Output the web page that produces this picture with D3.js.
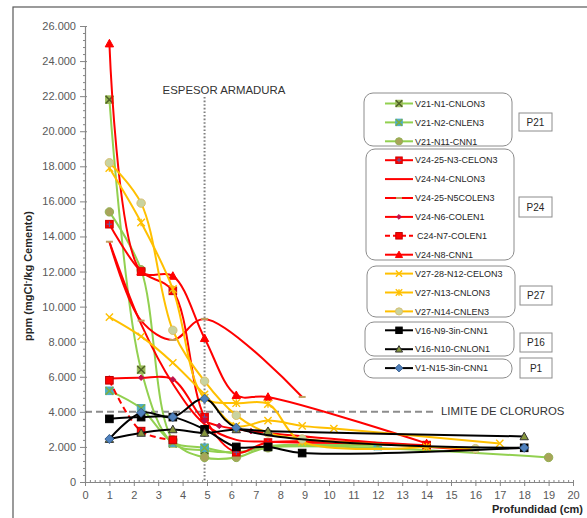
<!DOCTYPE html>
<html><head><meta charset="utf-8">
<script src="https://cdn.jsdelivr.net/npm/d3@7"></script>
<style>
body{margin:0;background:#fff;}
svg{display:block;font-family:"Liberation Sans",Arial,sans-serif;}
</style></head>
<body>
<svg id="c" width="587" height="518"></svg>
<script>
// ---------------- DATA ----------------
const xTicks = [0,1,2,3,4,5,6,7,8,9,10,11,12,13,14,15,16,17,18,19,20];
const yTicks = [0,2000,4000,6000,8000,10000,12000,14000,16000,18000,20000,22000,24000,26000];
const seriesNames = ["V21-N1-CNLON3","V21-N2-CNLEN3","V21-N11-CNN1",
  "V24-25-N3-CELON3","V24-N4-CNLON3","V24-25-N5COLEN3","V24-N6-COLEN1","C24-N7-COLEN1","V24-N8-CNN1",
  "V27-28-N12-CELON3","V27-N13-CNLON3","V27-N14-CNLEN3",
  "V16-N9-3in-CNN1","V16-N10-CNLON1","V1-N15-3in-CNN1"];
const groupLabels = ["P21","P24","P27","P16","P1"];
const armaduraDepth = 4.9;
const limiteCloruros = 4000;

const V21_N1  = [[1,21800],[2.3,6400],[3.6,2200],[4.9,1800],[6.2,1700],[7.5,2000],[14,2100]];
const V21_N2  = [[1,5200],[2.3,4200],[3.6,2250],[4.9,1950],[6.2,1650],[7.5,2050],[12,2050]];
const V21_N11 = [[1,15400],[2.3,12100],[3.6,2400],[4.9,1400],[6.2,1400],[7.5,1950],[19,1400]];
const V24_N3  = [[1,14700],[2.3,12000],[3.6,10900],[4.9,3700],[6.2,1700],[7.5,2250],[14,2100]];
const V24_N4  = [[1,13700],[2.3,9000],[3.6,5600],[4.9,3300],[6.2,2400],[7.5,2300],[12,2200]];
const V24_N5  = [[1,13700],[2.3,9200],[3.6,8100],[4.9,9300],[8.9,4850]];
const V24_N6  = [[1,5900],[2.3,5950],[3.6,5850],[4.9,3500],[5.5,3200],[6.8,2900],[16,1800]];
const C24_N7  = [[1,5800],[2.3,2900],[3.6,2400]];
const V24_N8  = [[1,25000],[2.3,12000],[3.6,11750],[4.9,8200],[6.2,4950],[7.5,4850],[14,2200]];
const V27_N12 = [[1,9400],[2.3,8300],[3.6,6800],[4.9,5000],[6.2,3200],[7.5,3500],[8.9,3200],[10.2,3050],[17,2200]];
const V27_N13 = [[1,17900],[2.3,14800],[3.6,11000],[4.9,4800],[6.2,4500],[7.5,4450],[8.9,2300],[14,2000]];
const V27_N14 = [[1,18200],[2.3,15900],[3.6,8650],[4.9,5750],[6.2,3800],[7.5,2800],[8.9,2450],[16,1900]];
const V16_N9  = [[1,3600],[2.3,3700],[3.6,3700],[4.9,3000],[6.2,2000],[7.5,2000],[8.9,1650],[18,1950]];
const V16_N10 = [[1,2450],[2.3,2800],[3.6,3000],[4.9,2800],[6.2,3000],[7.5,2900],[18,2600]];
const V1_N15  = [[1,2450],[2.3,3950],[3.6,3700],[4.9,4750],[6.2,3100],[18,1950]];
const seriesData = [V21_N1,V21_N2,V21_N11,V24_N3,V24_N4,V24_N5,V24_N6,C24_N7,V24_N8,V27_N12,V27_N13,V27_N14,V16_N9,V16_N10,V1_N15];

// ---------------- STYLES ----------------
const GREEN="#92D050", RED="#FF0000", YEL="#FFC000", BLK="#000000";
const styles = [
 {c:GREEN,m:"xsq",f:"#9BBB59",s:"#4F6228"},
 {c:GREEN,m:"xsq",f:"#4BACC6",s:"#7FB040"},
 {c:GREEN,m:"circle",f:"#A8A45A",s:"#92B050"},
 {c:RED,m:"sqplus",f:"#FF0000",s:"#5060B0"},
 {c:RED,m:"none"},
 {c:RED,m:"dash",f:"#C0A060",s:"#C0A060"},
 {c:RED,m:"diamondS",f:"#C0104A",s:"#C0104A"},
 {c:RED,m:"square",f:"#FF0000",s:"#C00000",dash:"6,4"},
 {c:RED,m:"tri",f:"#FF0000",s:"#FF0000"},
 {c:YEL,m:"x",s:"#FFC000"},
 {c:YEL,m:"star",s:"#FFC000"},
 {c:YEL,m:"circle",f:"#C9D3A0",s:"#D8C070"},
 {c:BLK,m:"square",f:"#000",s:"#000"},
 {c:BLK,m:"tri",f:"#86963C",s:"#333"},
 {c:BLK,m:"diamond",f:"#4F81BD",s:"#3A6090"}
];

const svg = d3.select("#c");
const W=587,H=518;
svg.append("rect").attr("x",13).attr("y",7).attr("width",700).attr("height",700)
  .attr("fill","#fff").attr("stroke","#595959").attr("stroke-width",1.2);

const x = d3.scaleLinear().domain([0,20]).range([85,573]);
const y = d3.scaleLinear().domain([0,26000]).range([482,26]);

// axes
const axCol="#868686", lblCol="#595959";
const yMinor = d3.range(0,26001,400).filter(v=>v%2000!==0);
const gyMin = svg.append("g").attr("transform","translate(85,0)")
  .call(d3.axisLeft(y).tickValues(yMinor).tickSize(2).tickFormat(""));
gyMin.selectAll("line").attr("x2",-2).attr("x1",1).attr("stroke",axCol);
gyMin.select(".domain").remove();
const xMinor = d3.range(0,100).map(i=>i*0.2).filter(v=>Math.abs(v-Math.round(v))>1e-6);
const gxMin = svg.append("g").attr("transform","translate(0,482)")
  .call(d3.axisBottom(x).tickValues(xMinor).tickSize(2).tickFormat(""));
gxMin.selectAll("line").attr("y1",-2).attr("y2",1).attr("stroke",axCol);
gxMin.select(".domain").remove();

const fmt = v => d3.format(",")(v).replace(/,/g,".");
const gy = svg.append("g").attr("transform","translate(85,0)")
  .call(d3.axisLeft(y).tickValues(yTicks).tickSize(5).tickPadding(4).tickFormat(fmt).tickSizeOuter(0));
gy.select(".domain").attr("stroke",axCol).attr("stroke-width",1.2);
gy.selectAll("line").attr("stroke",axCol).attr("x1",2);
gy.selectAll("text").attr("fill",lblCol).style("font-size","11px");
const gx = svg.append("g").attr("transform","translate(0,482)")
  .call(d3.axisBottom(x).tickValues(xTicks).tickSize(4).tickPadding(5).tickSizeOuter(0));
gx.select(".domain").attr("stroke",axCol).attr("stroke-width",1.2);
gx.selectAll("line").attr("stroke",axCol).attr("y1",-2);
gx.selectAll("text").attr("fill",lblCol).style("font-size","11px");

// axis titles
svg.append("text").attr("x",583).attr("y",513).attr("text-anchor","end")
  .attr("font-weight","bold").attr("font-size","11px").attr("fill","#262626").text("Profundidad (cm)");
const yt = svg.append("text").attr("transform","translate(32,276) rotate(-90)").attr("text-anchor","middle")
  .attr("font-weight","bold").attr("font-size","11px").attr("fill","#262626");
yt.append("tspan").text("ppm  (mgCl");
yt.append("tspan").attr("dy",-4).attr("font-size","8px").text("-");
yt.append("tspan").attr("dy",4).text("/kg Cemento)");

// reference lines
svg.append("line").attr("x1",x(armaduraDepth)).attr("x2",x(armaduraDepth)).attr("y1",97).attr("y2",y(0))
  .attr("stroke","#7f7f7f").attr("stroke-width",2).attr("stroke-dasharray","1.6,2");
svg.append("text").attr("x",224).attr("y",94).attr("text-anchor","middle").attr("font-size","11.4px")
  .attr("fill","#333").text("ESPESOR ARMADURA");
svg.append("line").attr("x1",x(0)).attr("x2",435).attr("y1",y(limiteCloruros)).attr("y2",y(limiteCloruros))
  .attr("stroke","#8c8c8c").attr("stroke-width",2).attr("stroke-dasharray","7,4");
svg.append("text").attr("x",441).attr("y",415).attr("font-size","11.4px").attr("fill","#333").text("LIMITE DE CLORUROS");

// markers
function marker(g, st, cx, cy, sc){
  sc = sc||1;
  const m = st.m;
  if(m==="none") return;
  if(m==="xsq"){
    const h=3.8*sc;
    g.append("rect").attr("x",cx-h).attr("y",cy-h).attr("width",2*h).attr("height",2*h).attr("fill",st.f).attr("stroke",st.f);
    g.append("path").attr("d",`M${cx-h},${cy-h}L${cx+h},${cy+h}M${cx-h},${cy+h}L${cx+h},${cy-h}`).attr("stroke",st.s).attr("stroke-width",1.5);
  } else if(m==="circle"){
    g.append("circle").attr("cx",cx).attr("cy",cy).attr("r",4.2*sc).attr("fill",st.f).attr("stroke",st.s).attr("stroke-width",1);
  } else if(m==="sqplus"){
    const h=3.8*sc;
    g.append("rect").attr("x",cx-h).attr("y",cy-h).attr("width",2*h).attr("height",2*h).attr("fill",st.f).attr("stroke","#D00000");
    g.append("path").attr("d",`M${cx-h+1},${cy}L${cx+h-1},${cy}M${cx},${cy-h+1}L${cx},${cy+h-1}`).attr("stroke",st.s).attr("stroke-width",1);
  } else if(m==="square"){
    const h=3.8*sc;
    g.append("rect").attr("x",cx-h).attr("y",cy-h).attr("width",2*h).attr("height",2*h).attr("fill",st.f).attr("stroke",st.s);
  } else if(m==="dash"){
    g.append("line").attr("x1",cx-3.5*sc).attr("x2",cx+3.5*sc).attr("y1",cy).attr("y2",cy).attr("stroke",st.s).attr("stroke-width",2);
  } else if(m==="diamondS"){
    const h=2.8*sc;
    g.append("path").attr("d",`M${cx},${cy-h}L${cx+h},${cy}L${cx},${cy+h}L${cx-h},${cy}Z`).attr("fill",st.f).attr("stroke",st.s);
  } else if(m==="diamond"){
    const h=4.5*sc;
    g.append("path").attr("d",`M${cx},${cy-h}L${cx+h},${cy}L${cx},${cy+h}L${cx-h},${cy}Z`).attr("fill",st.f).attr("stroke",st.s);
  } else if(m==="tri"){
    const h=4.2*sc;
    g.append("path").attr("d",`M${cx},${cy-h}L${cx+h},${cy+h*0.8}L${cx-h},${cy+h*0.8}Z`).attr("fill",st.f).attr("stroke",st.s);
  } else if(m==="x"){
    const h=3.6*sc;
    g.append("path").attr("d",`M${cx-h},${cy-h}L${cx+h},${cy+h}M${cx-h},${cy+h}L${cx+h},${cy-h}`).attr("stroke",st.s).attr("stroke-width",1.4);
  } else if(m==="star"){
    const h=3.8*sc;
    g.append("path").attr("d",`M${cx-h},${cy-h}L${cx+h},${cy+h}M${cx-h},${cy+h}L${cx+h},${cy-h}M${cx},${cy-h}L${cx},${cy+h}`).attr("stroke",st.s).attr("stroke-width",1.4);
  }
}

// series
const line = d3.line().x(d=>x(d[0])).y(d=>y(d[1])).curve(d3.curveCatmullRom.alpha(0.5));
const plot = svg.append("g");
seriesData.forEach((data,i)=>{
  const st = styles[i];
  const g = plot.append("g");
  g.append("path").attr("d",line(data)).attr("fill","none").attr("stroke",st.c).attr("stroke-width",2)
    .attr("stroke-dasharray",st.dash||null);
  data.forEach(d=>marker(g,st,x(d[0]),y(d[1]),1));
});

// legend
const boxes = [
  {lab:groupLabels[0], b:[364,93,148,53], l:[519,113,33,18]},
  {lab:groupLabels[1], b:[366,149,148,111], l:[519,197,33,20]},
  {lab:groupLabels[2], b:[367,266,148,51], l:[520,286,32,19]},
  {lab:groupLabels[3], b:[365,322,149,34], l:[520,333,32,19]},
  {lab:groupLabels[4], b:[364,359,148,19], l:[520,358,32,20]}
];
const lg = svg.append("g");
boxes.forEach(bx=>{
  lg.append("rect").attr("x",bx.b[0]).attr("y",bx.b[1]).attr("width",bx.b[2]).attr("height",bx.b[3])
    .attr("rx",9).attr("fill","none").attr("stroke","#8c8c8c").attr("stroke-width",1);
  lg.append("rect").attr("x",bx.l[0]).attr("y",bx.l[1]).attr("width",bx.l[2]).attr("height",bx.l[3])
    .attr("fill","#fff").attr("stroke","#8c8c8c").attr("stroke-width",1);
  lg.append("text").attr("x",bx.l[0]+bx.l[2]/2).attr("y",bx.l[1]+bx.l[3]/2+3.5).attr("text-anchor","middle")
    .attr("font-size","10px").attr("fill","#262626").text(bx.lab);
});
seriesNames.forEach((nm,i)=>{
  const st = styles[i];
  const yy = 103.5 + i*18.9;
  lg.append("line").attr("x1",385).attr("x2",413).attr("y1",yy).attr("y2",yy).attr("stroke",st.c)
    .attr("stroke-width",2).attr("stroke-dasharray",st.dash?"5,3":null);
  marker(lg,st,399,yy,0.85);
  lg.append("text").attr("x",i===7?417:415).attr("y",yy+3.2).attr("font-size","9px").attr("fill","#262626").text(nm);
});
</script>
</body></html>
